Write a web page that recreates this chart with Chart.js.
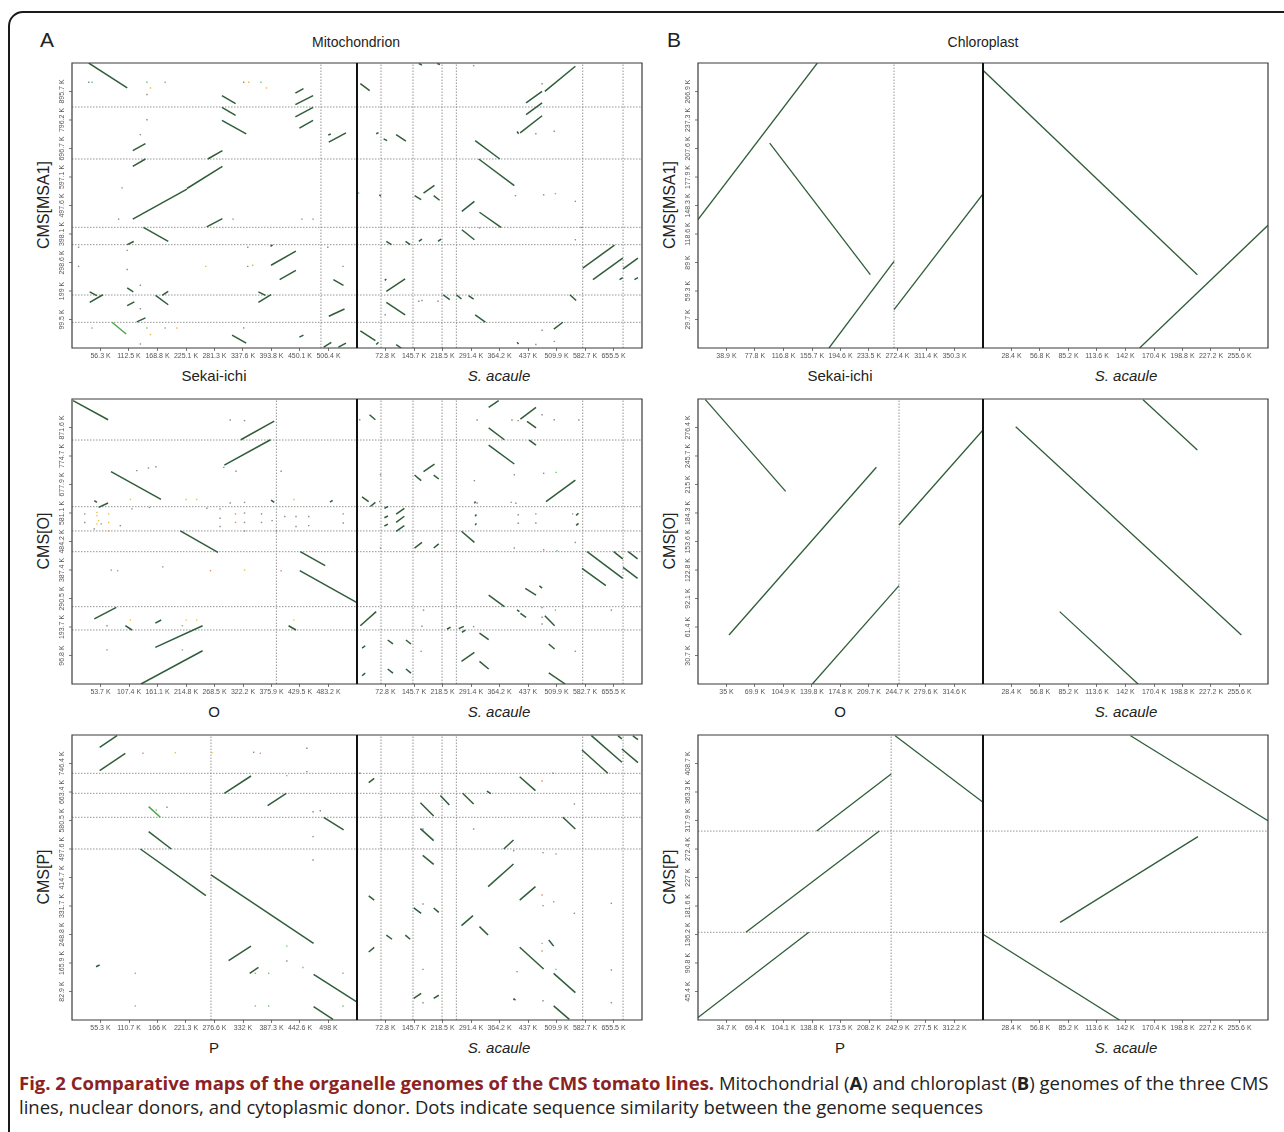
<!DOCTYPE html>
<html lang="en">
<head>
<meta charset="UTF-8">
<title>Comparative maps of the organelle genomes</title>
<script src="https://cdn.jsdelivr.net/npm/chart.js"></script>
<style>
  body { margin: 0; background: #fff; font-family: 'Liberation Sans', Arial, sans-serif; }
  #fig { position: relative; width: 1284px; height: 1132px; overflow: hidden; }
  .border { position: absolute; left: 8px; top: 11px; width: 1290px; height: 1140px; border: 2px solid #1a1a1a; border-radius: 15px 0 0 0; box-sizing: border-box; }
  canvas { position: absolute; }
  .t { position: absolute; transform: translate(-50%, -50%); white-space: nowrap; color: #222; }
  .letter { position: absolute; font-size: 21px; color: #222; }
  .ytitle { position: absolute; transform: translate(-50%, -50%) rotate(-90deg); font-size: 16px; color: #222; white-space: nowrap; }
  .cap { position: absolute; left: 19px; top: 1071px; width: 1262px; font-family: 'Open Sans', sans-serif; font-size: 18.5px; line-height: 24px; color: #222; white-space: nowrap; }
  .cap b { color: #8b2323; }
</style>
</head>
<body>
<div id="fig">
  <div class="border"></div>

  <div class="letter" style="left:40px; top:28px">A</div>
  <div class="t" style="left:356px; top:42px; font-size:14px">Mitochondrion</div>
  <div class="letter" style="left:667px; top:28px">B</div>
  <div class="t" style="left:983px; top:42px; font-size:14px">Chloroplast</div>

  <div class="ytitle" style="left:44px; top:205px">CMS[MSA1]</div>
  <div class="ytitle" style="left:44px; top:541px">CMS[O]</div>
  <div class="ytitle" style="left:44px; top:877px">CMS[P]</div>
  <div class="ytitle" style="left:670px; top:205px">CMS[MSA1]</div>
  <div class="ytitle" style="left:670px; top:541px">CMS[O]</div>
  <div class="ytitle" style="left:670px; top:877px">CMS[P]</div>

  <div class="t" style="left:214px; top:375px; font-size:15px">Sekai-ichi</div>
  <div class="t" style="left:499px; top:375px; font-size:15px; font-style:italic">S. acaule</div>
  <div class="t" style="left:840px; top:375px; font-size:15px">Sekai-ichi</div>
  <div class="t" style="left:1126px; top:375px; font-size:15px; font-style:italic">S. acaule</div>
  <div class="t" style="left:214px; top:711px; font-size:15px">O</div>
  <div class="t" style="left:499px; top:711px; font-size:15px; font-style:italic">S. acaule</div>
  <div class="t" style="left:840px; top:711px; font-size:15px">O</div>
  <div class="t" style="left:1126px; top:711px; font-size:15px; font-style:italic">S. acaule</div>
  <div class="t" style="left:214px; top:1047px; font-size:15px">P</div>
  <div class="t" style="left:499px; top:1047px; font-size:15px; font-style:italic">S. acaule</div>
  <div class="t" style="left:840px; top:1047px; font-size:15px">P</div>
  <div class="t" style="left:1126px; top:1047px; font-size:15px; font-style:italic">S. acaule</div>

  <div class="cap"><b>Fig. 2 Comparative maps of the organelle genomes of the CMS tomato lines.</b> Mitochondrial (<b style="color:#222">A</b>) and chloroplast (<b style="color:#222">B</b>) genomes of the three CMS<br>lines, nuclear donors, and cytoplasmic donor. Dots indicate sequence similarity between the genome sequences</div>
</div>

<script>
// ---- genome lengths (K) and tick labels ----
const sekaiMitoLen = 562.7, acauleMitoLen = 728.3, msa1MitoLen = 995.2;
const oMitoLen = 536.9, cmsOMitoLen = 968.4, pMitoLen = 553.3, cmsPMitoLen = 829.3;
const sekaiCpLen = 389.2, acauleCpLen = 284, msa1CpLen = 296.6;
const oCpLen = 349.6, cmsOCpLen = 307.1, pCpLen = 346.9, cmsPCpLen = 454.1;

const sekaiMitoTicks = [56.3, 112.5, 168.8, 225.1, 281.3, 337.6, 393.8, 450.1, 506.4];
const acauleMitoTicks = [72.8, 145.7, 218.5, 291.4, 364.2, 437, 509.9, 582.7, 655.5];
const msa1MitoTicks = [99.5, 199, 298.6, 398.1, 497.6, 597.1, 696.7, 796.2, 895.7];
const oMitoTicks = [53.7, 107.4, 161.1, 214.8, 268.5, 322.2, 375.9, 429.5, 483.2];
const cmsOMitoTicks = [96.8, 193.7, 290.5, 387.4, 484.2, 581.1, 677.9, 774.7, 871.6];
const pMitoTicks = [55.3, 110.7, 166, 221.3, 276.6, 332, 387.3, 442.6, 498];
const cmsPMitoTicks = [82.9, 165.9, 248.8, 331.7, 414.7, 497.6, 580.5, 663.4, 746.4];
const sekaiCpTicks = [38.9, 77.8, 116.8, 155.7, 194.6, 233.5, 272.4, 311.4, 350.3];
const acauleCpTicks = [28.4, 56.8, 85.2, 113.6, 142, 170.4, 198.8, 227.2, 255.6];
const msa1CpTicks = [29.7, 59.3, 89, 118.6, 148.3, 177.9, 207.6, 237.3, 266.9];
const oCpTicks = [35, 69.9, 104.9, 139.8, 174.8, 209.7, 244.7, 279.6, 314.6];
const cmsOCpTicks = [30.7, 61.4, 92.1, 122.8, 153.6, 184.3, 215, 245.7, 276.4];
const pCpTicks = [34.7, 69.4, 104.1, 138.8, 173.5, 208.2, 242.9, 277.5, 312.2];
const cmsPCpTicks = [45.4, 90.8, 136.2, 181.6, 227, 272.4, 317.9, 363.3, 408.7];

// ---- contig boundaries (dotted lines) ----
const sekaiMitoBounds = [491.5];
const acauleMitoBounds = [61.3, 143.1, 217.3, 253.9, 576.8, 679.9];
const msa1MitoBounds = [89.6, 185, 360.8, 421.4, 660, 841.6];
const oMitoBounds = [385];
const cmsOMitoBounds = [183.5, 262.8, 449.6, 520, 602.5, 829];
const pMitoBounds = [269.8];
const cmsPMitoBounds = [497.6, 589.8, 659.6, 717.8];
const sekaiCpBounds = [267.7];
const oCpBounds = [246.6];
const pCpBounds = [235.1];
const cmsPCpBounds = [139.7, 301];

// ---- alignments [x1, y1, x2, y2] in K ----
const msa1VsSekai = [
  [33,995,109,908],[296,881,323,853],[296,840,323,812],[296,795,344,748],[441,890,457,906],
  [441,850,476,881],[441,807,476,840],[449,768,476,795],[507,719,541,751],[506,744,511,747],
  [120,689,145,714],[268,660,297,689],[120,634,145,660],[120,450,227,555],[227,557,297,634],
  [266,423,297,452],[141,421,190,372],[109,361,122,372],[393,289,442,338],[392,355,396,360],
  [410,239,442,271],[516,239,536,219],[35,196,49,183],[35,159,61,186],[109,210,121,196],
  [109,148,123,161],[165,184,190,151],[178,184,190,198],[368,196,382,184],[368,159,393,186],
  [128,91,145,105],[507,111,538,136],[316,45,344,17],[449,38,457,45],[497,3,512,20],[526,3,541,17]
];
const msa1VsSekaiWeak = [[79,90,107,49]];
const msa1VsSekaiDots = [[33,928],[148,885],[148,797],[135,745],[99,559],[92,450],[318,450],[454,450],
  [476,450],[13,352],[109,341],[347,352],[13,285],[109,274],[347,285],[535,285],[505,352],[135,219],
  [135,137],[339,70],[135,14],[339,928]];
const msa1VsSekaiGreenDots = [[39.5,928],[148,928],[184,928],[373,928],[148,70],[184,70],[39.5,70]];
const msa1VsSekaiYellowDots = [[155,908],[349,928],[384,908],[207,70],[155,47],[264,285],[357,289]];

const msa1VsAcaule = [
  [8.5,923,32.4,899],[158,993,166,988],[205,993,212,990],[480,896,558,984],[432,856,473,896],
  [432,815,473,856],[417,751,473,811],[409,756,413,748],[49,748,55,752],[68,730,77,724],
  [100,745,125,722],[302,724,365,660],[311,660,402,567],[170,541,198,568],[147,532,164,518],
  [196,532,211,516],[57,535,61,530],[268,477,300,512],[313,474,368,421],[268,413,300,378],
  [75,372,88,361],[124,372,136,361],[158,372,166,380],[207,372,215,380],[577,279,658,359],
  [603,239,679,314],[680,276,718,314],[671,239,679,246],[709,239,718,246],[75,198,123,241],
  [71,236,75,241],[75,159,123,116],[220,186,237,169],[254,186,267,171],[285,183,298,171],
  [544,186,560,166],[302,116,328,90],[503,66,526,90],[8.5,60,47,26],[49,12,55,20],
  [100,12,113,0],[409,20,413,14]
];
const msa1VsAcauleDots = [[298,986],[473,923],[504,757],[457,748],[405,532],[477,535],[558,512],
  [573,421],[558,378],[473,62],[457,12],[504,23],[313,419],[72,116],[158,163],[166,166],[207,163]];
const msa1VsAcauleGreenDots = [[507,539],[4,541]];

const cmsOVsO = [
  [2,963,68,898],[318,830,381,893],[287,744,374,830],[73.5,721.5,167.7,627.5],[50,600,68,615],
  [42,623,47,617],[204,520,275,447],[430,450,477,402],[429,385,536,277.5],[42,221,83.5,260.5],
  [100.5,198,113,183.5],[157,207,168,217.5],[157,124.6,246,198],[130,0,246,113],[408,198,422,183.5],
  [375,625,381,617],[486,618,491,624]
];
const cmsOVsODots = [[24,578],[24,549],[42,527],[91,538],[55,544],[66,116],[66,198],[74,387],[171,398],
  [298,897],[325,895],[122,725],[144,734],[158,738],[286,736],[309,723],[394,723],[298,615],[325,617],
  [113,595],[146,600],[254,597],[279,595],[279,563],[279,535],[325,581],[325,549],[325,520],[357,578],
  [357,549],[377,555],[385,520],[401,569],[422,569],[422,535],[446,569],[446,538],[511,578],[511,547]];
const cmsOVsOYellowDots = [[47,583],[47,572],[47,544],[50,555],[69,578],[69,549],[110,627],[215,627],
  [235,627],[418,627],[110,217],[215,217],[235,217],[418,217],[325,387]];
const cmsOVsOOrangeDots = [[86,385],[261,385],[394,385],[308,578],[308,549],[69,520]];
const cmsOVsOGreenDots = [[208,198],[208,116]];

const cmsOVsAcaule = [
  [336.5,940,362,963],[32,915,47,898],[417.5,900,457.5,940],[434.5,892.5,457.5,870],[336.5,870,376.6,830],
  [440,829,457.5,812],[336.5,812,402,747.5],[170,721.5,198,747.5],[147,710,164,691],[196,710,209,696.5],
  [483,619.5,558,693],[12.8,636,29.8,619.5],[34,603,47,617],[70,597,79,603],[100,577,121,597],
  [70,565,79,571],[100,549,121,570],[70,537,79,543],[100,519,121,538],[267,519,300,481],
  [147,462,166,481],[196,462,209,476],[300,614,303,620],[302,570,305,576],[302,540,305,546],
  [560,573,566,580],[560,539,566,546],[575,393,636,334],[588,450,679,359],[656,450,679,425],
  [693,450,717,425],[680,396,717,359],[336.5,302,376.6,263],[430,325,457.5,302],[466,334,473,326],
  [409,252,415,246],[417.5,240,432,226.5],[480,232,505,198],[8.5,198,49,246],[230,186,239,193],
  [260,188,273,196],[268,175,277,183],[313,173,336.5,150.6],[13,122,21,130],[78.4,149.5,92,136],
  [125,149.5,138,136],[490,136,505,119],[267,77,300,107.6],[313,77,336.5,51],[78.4,51,92,37],
  [125,51,138,37],[13,28,21,37],[490,37.4,532,0]
];
const cmsOVsAcauleDots = [[7,898],[60,711],[60,462],[307,897],[396,897],[412,895],[473,915],[504,898],
  [567,897],[402,711],[477,716],[300,691],[394,617],[406,614],[412,575],[412,546],[457,578],[457,547],
  [307,615],[402,462],[477,456],[558,481],[473,260],[473,227],[473,204],[170,251],[166,196],[164,111],
  [558,111],[650,251],[298,195],[58,620]];
const cmsOVsAcauleGreenDots = [[509,719],[551,578],[511,453],[507,251]];

const cmsPVsP = [
  [53.7,793.5,87.4,827.4],[53.7,725.6,103.5,776],[295.7,659.6,347.5,710],[379.8,623.7,416,659.6],
  [488.6,589.8,527.4,552.9],[148.8,548,192.8,497.6],[132.7,497.6,260,361.8],[269.8,422,469,223],
  [304,172.7,347.5,215.3],[345,135.8,362,153.3],[46.6,155,53.7,160],[469,133,552,53.4],[469,38.8,506.7,2]
];
const cmsPVsPWeak = [[148.8,620.8,171.5,589.8]];
const cmsPVsPDots = [[352.7,779],[456,790.6],[456,722.7],[468,606],[482,609],[468,533.5],[468,465.6],
  [417,171.7],[184.4,619]];
const cmsPVsPOrangeDots = [[137.8,776],[365.6,776],[417,711]];
const cmsPVsPYellowDots = [[200.6,778],[271.8,778]];
const cmsPVsPGreenDots = [[417,215],[448.4,153],[123,135.8],[356,135.8],[381.8,135.8],[526,135.8],
  [123,40.7],[356,40.7],[381.8,40.7],[526,40.7],[163.7,611]];

const cmsPVsAcaule = [
  [575,785.7,641,717.8],[599,827.4,677,750],[667,827,677,818],[677,788.6,718,749],[705,827,718,816],
  [30,690.6,44,703],[415.8,708,456,667.4],[270,659.6,298,628.6],[213,653,236,625.7],[332,666,342,659],
  [162,632.4,196,593.6],[526,589.8,558,555.8],[162,557,196,521.9],[375,497.6,400,523.8],[168,479,196,453],
  [335,388,400,454],[415.8,349,456,388],[30,361,44,349],[145,326,164,310],[196,326,209,313],
  [267,274.5,296.5,303.6],[313,271.6,335,247.4],[75,247,89.5,235],[123.5,247,136,235],[30,198,44,211.5],
  [490,232.8,502.5,215],[415.8,211.5,477,148.4],[502.5,135.8,558,79.5],[145,63,164,77.6],[196,63,209,72],
  [502.5,41,542.6,2],[400,62,405,58]
];
const cmsPVsAcauleDots = [[7,718],[501,718],[555.5,628.6],[168.7,555.8],[298,555.8],[400.4,492.8],
  [475.4,487],[475.4,332.7],[555.5,310.4],[650,339.5],[409,140.7],[650,145.5],[400.4,60],[475.4,56],
  [650,50.4],[168.7,337.6],[168.7,147.4],[168.7,50.4]];
const cmsPVsAcauleOrangeDots = [[473,695.5],[473,363.8],[473,223],[473,200.8]];
const cmsPVsAcauleGreenDots = [[508.6,483],[502.7,344],[508.6,147.4]];

const cpMsa1VsSekai = [[0,133.6,163,296.6],[97.9,213.3,235.3,76.3],[178.9,0,267.7,90.2],[267.7,39.9,389.2,160.3]];
const cpMsa1VsAcaule = [[0,289,213.6,76.3],[156.1,0,284,127.7]];
const cpOVsO = [[9,306.4,107.5,207.6],[38,52.8,218.8,233.5],[140.3,0,246.6,106],[246.6,171.3,349.6,273.7]];
const cpOVsAcaule = [[32.6,277.3,257.5,52.8],[159.5,306.4,213.6,252.2],[76.4,78,154.5,0]];
const cpPVsP = [[0,4,134.9,139.7],[58.3,139.7,220.7,301],[144.5,301,235.1,392],[240,453,346.9,346.8]];
const cpPVsAcaule = [[147,453,284,317.6],[76.9,155.6,214.2,292.1],[0,136.5,136,0]];

// ---- drawing ----
const TICK_FONT = "'Liberation Sans Narrow', 'Liberation Sans', Arial, sans-serif";
const SEG = '#2f5d3a', SEG_WEAK = '#4fa64a', GRID = '#8a8a8a';
const SIZE = 285, AX = 34, PAD = 4, BX = 22;
const fig = document.getElementById('fig');

const framePlugin = {
  id: 'frame',
  afterDatasetsDraw(chart, args, o) {
    const { ctx, chartArea: a } = chart;
    ctx.save();
    ctx.strokeStyle = '#3a3a3a';
    ctx.lineWidth = 1.2;
    ctx.beginPath();
    if (o.side === 'left') {
      ctx.moveTo(a.right, a.top); ctx.lineTo(a.left, a.top);
      ctx.lineTo(a.left, a.bottom); ctx.lineTo(a.right, a.bottom);
    } else {
      ctx.moveTo(a.left, a.top); ctx.lineTo(a.right, a.top);
      ctx.lineTo(a.right, a.bottom); ctx.lineTo(a.left, a.bottom);
    }
    ctx.stroke();
    ctx.strokeStyle = '#111';
    ctx.lineWidth = 2;
    const dx = o.side === 'left' ? a.right : a.left;
    ctx.beginPath(); ctx.moveTo(dx, a.top); ctx.lineTo(dx, a.bottom); ctx.stroke();

    if (o.yTicks) {
      const ys = chart.scales.y;
      ctx.fillStyle = '#555';
      ctx.strokeStyle = '#555';
      ctx.lineWidth = 0.8;
      ctx.font = '7px ' + TICK_FONT;
      ctx.textAlign = 'center';
      ctx.textBaseline = 'bottom';
      o.yTicks.forEach(v => {
        const py = ys.getPixelForValue(v);
        ctx.beginPath(); ctx.moveTo(a.left - 3, py); ctx.lineTo(a.left, py); ctx.stroke();
        ctx.save();
        ctx.translate(a.left - 6, py);
        ctx.rotate(-Math.PI / 2);
        ctx.fillText(v + ' K', 0, 0);
        ctx.restore();
      });
    }
    ctx.restore();
  }
};

function seg(p, color, width) {
  return { data: [{ x: p[0], y: p[1] }, { x: p[2], y: p[3] }], showLine: true,
    borderColor: color, borderWidth: width, pointRadius: 0 };
}
function dots(list, color) {
  return { data: list.map(p => ({ x: p[0], y: p[1] })), pointStyle: 'rect', pointRadius: 1,
    borderWidth: 0, backgroundColor: color, showLine: false };
}

function panel(c) {
  const left = c.side === 'left';
  const cv = document.createElement('canvas');
  const w = (left ? AX : PAD) + SIZE + PAD, h = PAD + SIZE + BX;
  cv.width = w; cv.height = h;
  cv.style.left = (c.x - (left ? AX : PAD)) + 'px';
  cv.style.top = (c.y - PAD) + 'px';
  fig.appendChild(cv);

  const sets = [];
  (c.segs || []).forEach(p => sets.push(seg(p, SEG, c.lw)));
  (c.weak || []).forEach(p => sets.push(seg(p, SEG_WEAK, c.lw)));
  (c.dots || []).forEach(d => sets.push(dots(d[0], d[1])));
  (c.vLines || []).forEach(v => sets.push({ data: [{ x: v, y: 0 }, { x: v, y: c.yMax }], showLine: true,
    borderColor: GRID, borderWidth: 0.9, borderDash: [1.5, 1.5], pointRadius: 0 }));
  (c.hLines || []).forEach(v => sets.push({ data: [{ x: 0, y: v }, { x: c.xMax, y: v }], showLine: true,
    borderColor: GRID, borderWidth: 0.9, borderDash: [1.5, 1.5], pointRadius: 0 }));

  new Chart(cv, {
    type: 'scatter',
    data: { datasets: sets },
    plugins: [framePlugin],
    options: {
      responsive: false,
      animation: false,
      layout: { padding: { left: left ? 0 : PAD, top: PAD, right: PAD, bottom: 0 } },
      plugins: { legend: { display: false }, tooltip: { enabled: false },
        frame: { side: c.side, yTicks: c.yTicks } },
      scales: {
        x: {
          type: 'linear', min: 0, max: c.xMax,
          afterBuildTicks: s => { s.ticks = c.xTicks.map(v => ({ value: v })); },
          afterFit: s => { s.height = BX; },
          border: { display: false },
          grid: { display: true, drawOnChartArea: false, drawTicks: true, tickLength: 3, color: '#555', lineWidth: 0.8 },
          ticks: { autoSkip: false, maxRotation: 0, minRotation: 0, padding: 1, color: '#555',
            font: { size: 7, family: TICK_FONT }, callback: v => v + ' K' }
        },
        y: {
          type: 'linear', min: 0, max: c.yMax, display: left,
          afterFit: s => { s.width = left ? AX : 0; },
          border: { display: false },
          grid: { display: false },
          ticks: { display: false }
        }
      }
    }
  });
}

const mx1 = 72, mx2 = 357, cx1 = 698, cx2 = 983;
const r1 = 63, r2 = 399, r3 = 735;

// Mitochondrion
panel({ side: 'left', x: mx1, y: r1, xMax: sekaiMitoLen, yMax: msa1MitoLen, xTicks: sekaiMitoTicks, yTicks: msa1MitoTicks,
  segs: msa1VsSekai, weak: msa1VsSekaiWeak, lw: 1.5, vLines: sekaiMitoBounds, hLines: msa1MitoBounds,
  dots: [[msa1VsSekaiDots, '#8c8c8c'], [msa1VsSekaiGreenDots, '#7cc07a'], [msa1VsSekaiYellowDots, '#f0b83c']] });
panel({ side: 'right', x: mx2, y: r1, xMax: acauleMitoLen, yMax: msa1MitoLen, xTicks: acauleMitoTicks,
  segs: msa1VsAcaule, lw: 1.5, vLines: acauleMitoBounds, hLines: msa1MitoBounds,
  dots: [[msa1VsAcauleDots, '#8c8c8c'], [msa1VsAcauleGreenDots, '#7cc07a']] });
panel({ side: 'left', x: mx1, y: r2, xMax: oMitoLen, yMax: cmsOMitoLen, xTicks: oMitoTicks, yTicks: cmsOMitoTicks,
  segs: cmsOVsO, lw: 1.5, vLines: oMitoBounds, hLines: cmsOMitoBounds,
  dots: [[cmsOVsODots, '#8c8c8c'], [cmsOVsOYellowDots, '#f0c040'], [cmsOVsOOrangeDots, '#e3916a'], [cmsOVsOGreenDots, '#7cc07a']] });
panel({ side: 'right', x: mx2, y: r2, xMax: acauleMitoLen, yMax: cmsOMitoLen, xTicks: acauleMitoTicks,
  segs: cmsOVsAcaule, lw: 1.5, vLines: acauleMitoBounds, hLines: cmsOMitoBounds,
  dots: [[cmsOVsAcauleDots, '#8c8c8c'], [cmsOVsAcauleGreenDots, '#7cc07a']] });
panel({ side: 'left', x: mx1, y: r3, xMax: pMitoLen, yMax: cmsPMitoLen, xTicks: pMitoTicks, yTicks: cmsPMitoTicks,
  segs: cmsPVsP, weak: cmsPVsPWeak, lw: 1.5, vLines: pMitoBounds, hLines: cmsPMitoBounds,
  dots: [[cmsPVsPDots, '#8c8c8c'], [cmsPVsPOrangeDots, '#e3916a'], [cmsPVsPYellowDots, '#f0c040'], [cmsPVsPGreenDots, '#7cc07a']] });
panel({ side: 'right', x: mx2, y: r3, xMax: acauleMitoLen, yMax: cmsPMitoLen, xTicks: acauleMitoTicks,
  segs: cmsPVsAcaule, lw: 1.5, vLines: acauleMitoBounds, hLines: cmsPMitoBounds,
  dots: [[cmsPVsAcauleDots, '#8c8c8c'], [cmsPVsAcauleOrangeDots, '#e3916a'], [cmsPVsAcauleGreenDots, '#7cc07a']] });

// Chloroplast
panel({ side: 'left', x: cx1, y: r1, xMax: sekaiCpLen, yMax: msa1CpLen, xTicks: sekaiCpTicks, yTicks: msa1CpTicks,
  segs: cpMsa1VsSekai, lw: 1.3, vLines: sekaiCpBounds });
panel({ side: 'right', x: cx2, y: r1, xMax: acauleCpLen, yMax: msa1CpLen, xTicks: acauleCpTicks,
  segs: cpMsa1VsAcaule, lw: 1.3 });
panel({ side: 'left', x: cx1, y: r2, xMax: oCpLen, yMax: cmsOCpLen, xTicks: oCpTicks, yTicks: cmsOCpTicks,
  segs: cpOVsO, lw: 1.3, vLines: oCpBounds });
panel({ side: 'right', x: cx2, y: r2, xMax: acauleCpLen, yMax: cmsOCpLen, xTicks: acauleCpTicks,
  segs: cpOVsAcaule, lw: 1.3 });
panel({ side: 'left', x: cx1, y: r3, xMax: pCpLen, yMax: cmsPCpLen, xTicks: pCpTicks, yTicks: cmsPCpTicks,
  segs: cpPVsP, lw: 1.3, vLines: pCpBounds, hLines: cmsPCpBounds });
panel({ side: 'right', x: cx2, y: r3, xMax: acauleCpLen, yMax: cmsPCpLen, xTicks: acauleCpTicks,
  segs: cpPVsAcaule, lw: 1.3, hLines: cmsPCpBounds });
</script>
</body>
</html>
